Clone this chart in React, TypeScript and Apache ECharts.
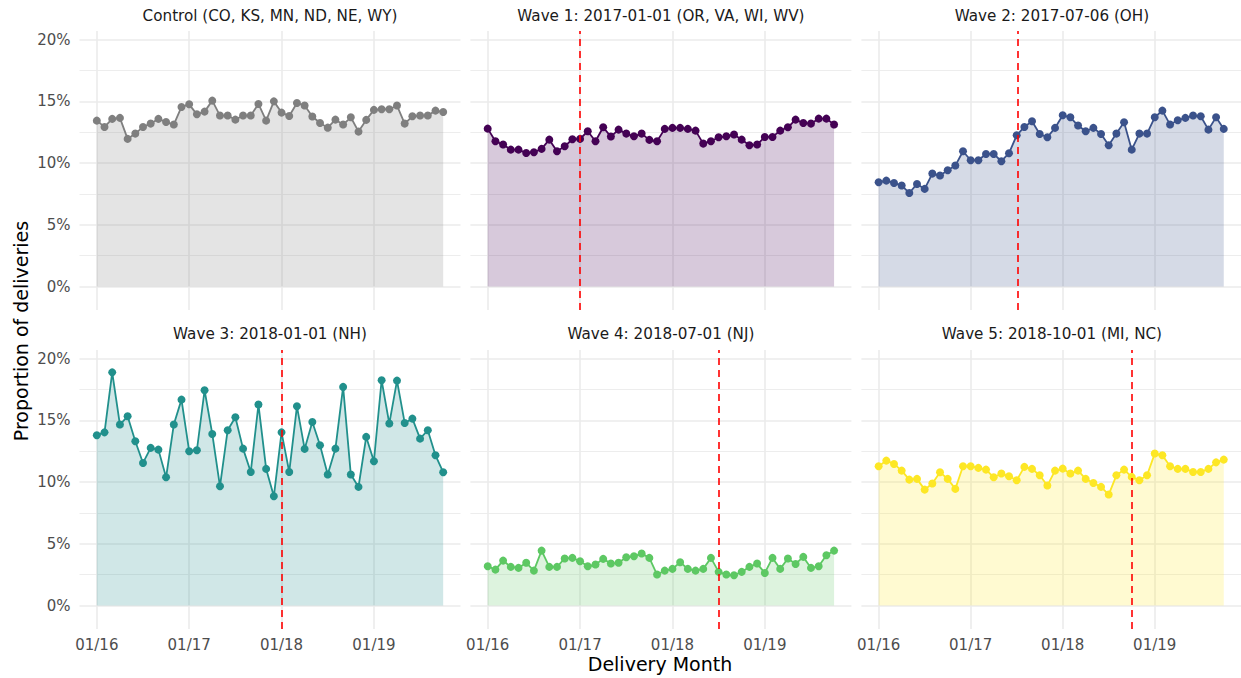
import React, { useEffect, useRef } from "react";
import * as echarts from "echarts";

// Month index 0 = 2016-01, 45 = 2019-10
const controlValues = [13.44, 12.93, 13.58, 13.66, 11.96, 12.39, 12.93, 13.2, 13.58, 13.33, 13.12, 14.55, 14.76, 13.95, 14.17, 15.06, 13.85, 13.85, 13.52, 13.85, 13.85, 14.79, 13.44, 15.0, 14.09, 13.82, 14.87, 14.66, 13.77, 13.25, 12.87, 13.52, 13.12, 13.71, 12.55, 13.5, 14.31, 14.36, 14.36, 14.66, 13.2, 13.79, 13.85, 13.85, 14.25, 14.14];
const wave1Values = [12.79, 11.77, 11.5, 11.09, 11.09, 10.82, 10.88, 11.15, 11.9, 10.96, 11.36, 11.93, 11.96, 12.58, 11.77, 12.9, 12.15, 12.71, 12.39, 12.17, 12.39, 11.88, 11.77, 12.77, 12.85, 12.85, 12.77, 12.63, 11.58, 11.77, 12.09, 12.17, 12.31, 11.9, 11.44, 11.5, 12.12, 12.12, 12.63, 12.9, 13.52, 13.25, 13.2, 13.6, 13.6, 13.12];
const wave2Values = [8.45, 8.58, 8.39, 8.18, 7.58, 8.31, 7.91, 9.15, 8.99, 9.42, 9.8, 10.96, 10.23, 10.23, 10.74, 10.74, 10.15, 10.8, 12.25, 12.93, 13.39, 12.36, 12.09, 12.85, 13.87, 13.71, 13.04, 12.58, 12.85, 12.36, 11.44, 12.39, 13.31, 11.09, 12.39, 12.39, 13.71, 14.25, 13.12, 13.47, 13.66, 13.85, 13.79, 12.71, 13.71, 12.77];
const wave3Values = [13.79, 14.03, 18.89, 14.66, 15.33, 13.31, 11.55, 12.77, 12.63, 10.39, 14.66, 16.68, 12.5, 12.58, 17.44, 13.9, 9.66, 14.2, 15.25, 12.71, 10.82, 16.28, 11.07, 8.85, 14.03, 10.82, 16.14, 12.69, 14.87, 12.98, 10.61, 12.71, 17.71, 10.61, 9.61, 13.66, 11.69, 18.25, 14.74, 18.22, 14.79, 15.14, 13.52, 14.2, 12.17, 10.8];
const wave4Values = [3.18, 2.91, 3.64, 3.13, 3.05, 3.46, 2.83, 4.45, 3.13, 3.13, 3.81, 3.86, 3.59, 3.18, 3.32, 3.78, 3.4, 3.46, 3.91, 3.99, 4.21, 3.86, 2.51, 2.83, 2.97, 3.51, 2.97, 2.83, 2.97, 3.86, 2.73, 2.51, 2.46, 2.73, 3.13, 3.4, 2.64, 3.86, 2.97, 3.81, 3.37, 3.94, 3.05, 3.18, 4.08, 4.45];
const wave5Values = [11.28, 11.74, 11.47, 10.93, 10.2, 10.26, 9.39, 9.88, 10.8, 10.26, 9.45, 11.28, 11.28, 11.15, 11.01, 10.39, 10.69, 10.47, 10.15, 11.23, 11.07, 10.55, 9.72, 10.93, 11.09, 10.69, 10.93, 10.26, 9.93, 9.61, 8.99, 10.55, 11.01, 10.42, 10.15, 10.55, 12.31, 12.17, 11.28, 11.07, 11.07, 10.82, 10.82, 11.07, 11.6, 11.82];

const panelTitles = [
  "Control (CO, KS, MN, ND, NE, WY)",
  "Wave 1: 2017-01-01 (OR, VA, WI, WV)",
  "Wave 2: 2017-07-06 (OH)",
  "Wave 3: 2018-01-01 (NH)",
  "Wave 4: 2018-07-01 (NJ)",
  "Wave 5: 2018-10-01 (MI, NC)",
];
const panelValues = [controlValues, wave1Values, wave2Values, wave3Values, wave4Values, wave5Values];
const panelColors = ["#7F7F7F", "#440154", "#3B528B", "#21908C", "#5DC863", "#FDE725"];
// wave start as month index (fractional for mid-month dates)
const waveStart: (number | null)[] = [null, 12, 18.16, 24, 30, 33];

const xTickIndex = [0, 12, 24, 36];
const xTickLabels = ["01/16", "01/17", "01/18", "01/19"];
const yMajorTicks = [0, 5, 10, 15, 20];
const yMinorTicks = [2.5, 7.5, 12.5, 17.5];

const FONT = "DejaVu Sans";
const GRID_COLOR = "#EBEBEB";
const colLeft = [79.5, 470.4, 861.4];
const rowTop = [31, 350];
const GRID_W = 381;
const GRID_H = 279;
const X_MIN = -2.25;
const X_MAX = 47.25;
const Y_MIN = -1.9;
const Y_MAX = 20.7;

export default function App() {
  const ref = useRef<HTMLDivElement>(null);
  useEffect(() => {
    if (!ref.current) return;
    const chart = echarts.init(ref.current, undefined, { renderer: "svg" });
    const grid: any[] = [];
    const xAxis: any[] = [];
    const yAxis: any[] = [];
    const series: any[] = [];
    const graphic: any[] = [];

    panelValues.forEach((vals, i) => {
      const row = Math.floor(i / 3);
      const col = i % 3;
      grid.push({ left: colLeft[col], top: rowTop[row], width: GRID_W, height: GRID_H, containLabel: false });
      xAxis.push({
        type: "value",
        gridIndex: i,
        min: X_MIN,
        max: X_MAX,
        axisLine: { show: false },
        axisTick: { show: false, customValues: xTickIndex },
        axisLabel: {
          show: row === 1,
          customValues: xTickIndex,
          formatter: (v: number) => {
            const k = xTickIndex.indexOf(Math.round(v));
            return k >= 0 ? xTickLabels[k] : "";
          },
          color: "#4D4D4D",
          fontSize: 15,
          fontFamily: FONT,
          margin: 8,
        },
        splitLine: { show: true, lineStyle: { color: GRID_COLOR, width: 1.6 } },
      });
      yAxis.push({
        type: "value",
        gridIndex: i,
        min: Y_MIN,
        max: Y_MAX,
        position: "left",
        axisLine: { show: false },
        axisTick: { show: false, customValues: yMajorTicks },
        axisLabel: {
          show: col === 0,
          customValues: yMajorTicks,
          formatter: (v: number) => `${Math.round(v)}%`,
          color: "#4D4D4D",
          fontSize: 15,
          fontFamily: FONT,
          margin: 9,
        },
        splitLine: { show: true, lineStyle: { color: GRID_COLOR, width: 1.6 } },
      });
      yAxis.push({
        type: "value",
        gridIndex: i,
        min: Y_MIN,
        max: Y_MAX,
        position: "right",
        axisLine: { show: false },
        axisTick: { show: false, customValues: yMinorTicks },
        axisLabel: { show: false, customValues: yMinorTicks },
        splitLine: { show: true, lineStyle: { color: GRID_COLOR, width: 0.9 } },
      });
      const color = panelColors[i];
      const s: any = {
        type: "line",
        xAxisIndex: i,
        yAxisIndex: 2 * i,
        data: vals.map((v, k) => [k, v]),
        symbol: "circle",
        symbolSize: 8,
        showSymbol: true,
        lineStyle: { color, width: 1.8 },
        itemStyle: { color },
        areaStyle: { color, opacity: 0.21, origin: 0 },
        z: 3,
      };
      const ws = waveStart[i];
      if (ws !== null) {
        s.markLine = {
          silent: true,
          symbol: ["none", "none"],
          label: { show: false },
          lineStyle: { color: "#FF0000", type: [7, 5], width: 1.6 },
          data: [{ xAxis: ws }],
          z: 4,
        };
      }
      series.push(s);
      graphic.push({
        type: "text",
        x: colLeft[col] + GRID_W / 2,
        y: row === 0 ? 16 : 334,
        style: {
          text: panelTitles[i],
          fill: "#1A1A1A",
          font: `15.2px '${FONT}'`,
          textAlign: "center",
          textVerticalAlign: "middle",
        },
      });
    });

    graphic.push({
      type: "text",
      x: 660,
      y: 664,
      style: {
        text: "Delivery Month",
        fill: "#000000",
        font: `19px '${FONT}'`,
        textAlign: "center",
        textVerticalAlign: "middle",
      },
    });
    graphic.push({
      type: "text",
      x: 21,
      y: 331,
      rotation: Math.PI / 2,
      style: {
        text: "Proportion of deliveries",
        fill: "#000000",
        font: `19px '${FONT}'`,
        textAlign: "center",
        textVerticalAlign: "middle",
      },
    });

    chart.setOption({
      animation: false,
      backgroundColor: "#FFFFFF",
      textStyle: { fontFamily: FONT },
      grid,
      xAxis,
      yAxis,
      series,
      graphic,
    });
    return () => chart.dispose();
  }, []);
  return (
    <div
      ref={ref}
      style={{ position: "fixed", left: 0, top: 0, width: 1241, height: 678 }}
    />
  );
}
